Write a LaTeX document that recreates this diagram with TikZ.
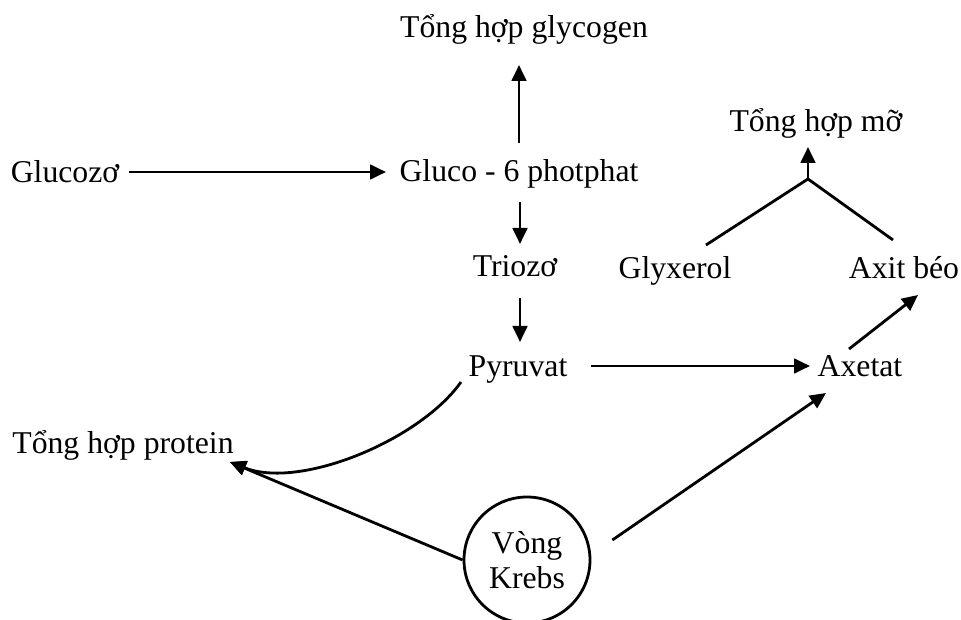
\documentclass[tikz,border=0pt]{standalone}
\usepackage{fontspec}
\setmainfont{Liberation Serif}
\usetikzlibrary{arrows.meta,calc}
\begin{document}
\begin{tikzpicture}[x=0.75pt,y=-0.75pt,
  lbl/.style={inner sep=0pt,anchor=base,font=\fontsize{23.8}{26.25}\selectfont},
  conn/.style={line width=2.1pt},
  arr/.style={conn,-{Triangle[length=12pt,width=11pt]}}]
\useasboundingbox (0,0) rectangle (961,620);
% nodes
\node[lbl] (glu) at (65,183) {Glucozơ};
\node[lbl] (g6p) at (519,182) {Gluco - 6 photphat};
\node[lbl] (gly) at (524,38) {Tổng hợp glycogen};
\node[lbl] (tri) at (515,277) {Triozơ};
\node[lbl] (pyr) at (518,377) {Pyruvat};
\node[lbl] (glyx) at (675,279) {Glyxerol};
\node[lbl] (axb) at (904,279) {Axit béo};
\node[lbl] (axe) at (860,377) {Axetat};
\node[lbl] (mo) at (816,132) {Tổng hợp mỡ};
\node[lbl] (pro) at (123,453) {Tổng hợp protein};
\node[circle,draw,line width=2.1pt,minimum size=94.5pt,inner sep=0pt,align=center,
  font=\fontsize{23.8}{26.25}\selectfont] (krebs) at (527,560) {Vòng\\Krebs};
\coordinate (j) at (808,179);
\coordinate (ptip) at ($(pro.base)+(107,9)$);
% connectors
\draw[arr] ($(glu.base)+(64,-11)$) -- ($(g6p.base)+(-133,-10)$);
\draw[arr] ($(g6p.base)+(0,-39)$) -- ($(gly.base)+(-5,27)$);
\draw[arr] ($(g6p.base)+(1,20)$) -- ($(tri.base)+(5,-33)$);
\draw[arr] ($(tri.base)+(5,21)$) -- ($(pyr.base)+(2,-35)$);
\draw[arr] ($(pyr.base)+(73,-11)$) -- ($(axe.base)+(-50,-11)$);
\draw[arr] ($(axe.base)+(-11,-28)$) -- ($(axb.base)+(14,16)$);
\draw[conn] ($(glyx.base)+(31,-34)$) -- (j) -- ($(axb.base)+(-11,-39)$);
\draw[arr] (j) -- ($(mo.base)+(-8,15)$);
\draw[arr] ($(pyr.base)+(-57,5)$) .. controls (420,440) and (300,490) .. (ptip);
\draw[arr] (krebs.west) -- (ptip);
\draw[arr] ($(krebs.east)+(21,-20)$) -- ($(axe.base)+(-34,16)$);
\end{tikzpicture}
\end{document}
